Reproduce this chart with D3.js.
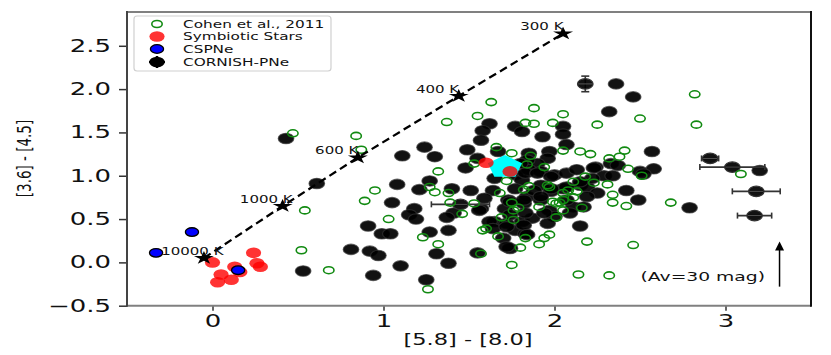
<!DOCTYPE html>
<html>
<head>
<meta charset="utf-8">
<script src="https://cdn.jsdelivr.net/npm/d3@7"></script>
<style>
body { margin: 0; background: #fff; }
text { font-family: "DejaVu Sans", sans-serif; fill: #111; }
</style>
</head>
<body>
<div id="chart"></div>
<script>
// Cohen et al. 2011 (open green)
var cohenX = [0.47,0.84,0.87,0.54,0.95,0.89,1.03,1.32,1.27,1.30,1.23,1.32,0.52,0.68,1.26,1.63,1.88,2.05,1.37,1.55,
  1.83,1.88,1.99,1.66,1.75,1.86,2.05,1.53,1.84,1.94,2.25,2.15,2.21,2.50,2.82,2.83,2.41,2.38,2.32,2.43,
  2.51,3.09,2.18,2.11,2.23,2.31,2.13,2.34,2.34,2.42,2.68,2.16,2.19,2.46,2.14,2.32,1.72,1.38,1.68,1.82,
  1.85,1.96,1.97,2.05,2.08,1.39,1.53,1.75,1.79,1.76,1.91,1.99,2.01,2.03,2.05,2.05,1.46,1.69,1.76,2.01,
  1.58,1.60,1.67,1.83,1.97,1.94,1.91,1.80,1.57,1.75,2.11];
var cohenY = [1.49,1.46,1.30,0.60,0.83,0.71,0.50,1.05,0.87,0.81,0.29,0.21,0.14,-0.09,-0.31,1.85,1.78,1.71,1.62,1.69,
  1.61,1.60,1.61,1.33,1.26,1.23,1.29,1.14,1.13,1.10,1.59,1.28,1.25,1.66,1.94,1.59,1.29,1.22,1.20,1.08,
  1.00,1.02,0.99,0.93,0.92,0.90,0.82,0.78,0.69,0.65,0.69,0.63,0.24,0.20,-0.14,-0.15,0.94,0.80,0.80,0.84,
  0.88,0.89,0.87,0.80,0.83,0.69,0.68,0.69,0.63,0.60,0.64,0.70,0.68,0.69,0.72,0.60,0.56,0.52,0.49,0.52,
  0.37,0.39,0.30,0.28,0.32,0.28,0.21,0.17,0.10,-0.03,0.75];

// CORNISH PNe (black)
var cornishX = [0.43,0.61,1.11,1.24,1.30,1.08,1.21,1.27,1.05,1.18,1.15,1.19,0.91,0.99,1.04,1.27,0.81,0.92,0.97,1.31,
  1.10,0.53,0.94,1.25,1.62,1.58,1.57,1.77,1.81,1.93,2.05,2.05,2.07,1.49,1.67,1.85,1.97,1.96,1.90,1.55,
  1.48,1.84,2.36,2.46,2.32,2.57,2.33,2.37,2.24,2.58,2.50,2.52,2.29,2.34,2.15,2.19,2.42,2.25,2.49,2.79,
  2.11,2.15,3.20,1.85,1.92,2.00,1.65,1.77,1.81,1.40,1.51,1.64,1.92,1.98,2.05,1.59,1.57,1.73,1.71,1.82,
  1.84,1.92,1.97,1.41,1.37,1.56,1.65,1.72,1.81,1.87,2.00,1.62,1.38,1.64,1.77,1.70,1.83,1.74,1.55,1.38,
  1.80,1.83,1.90,1.98,2.07,2.13,2.23,2.22,2.15,1.77,1.88,1.98,2.07,1.74,1.82,1.92,2.07,2.19,2.17,1.74,
  1.83,1.94,2.09,1.72,1.82,1.96,1.84,1.72];
var cornishY = [1.43,0.91,1.23,1.33,1.22,0.90,0.84,0.94,0.69,0.62,0.55,0.50,0.42,0.33,0.33,0.35,0.15,0.13,0.08,0.10,
  -0.04,-0.10,-0.15,-0.20,1.60,1.52,1.41,1.57,1.51,1.45,1.57,1.48,1.36,1.30,1.28,1.26,1.28,1.20,1.14,1.20,
  1.09,1.18,2.06,1.91,1.74,1.28,1.14,1.12,1.10,1.08,1.05,1.02,1.00,1.00,0.89,0.87,0.83,0.80,0.72,0.63,
  0.64,0.42,1.06,1.07,1.05,1.01,0.97,1.01,0.95,0.85,0.83,0.83,0.89,0.82,0.85,0.74,0.62,0.72,0.62,0.68,
  0.76,0.72,0.60,0.57,0.52,0.60,0.47,0.45,0.47,0.51,0.53,0.47,0.37,0.39,0.37,0.28,0.33,0.16,0.11,-0.01,
  1.14,1.03,1.03,0.99,1.03,1.07,1.09,0.97,0.93,0.85,0.83,0.85,0.87,0.70,0.72,0.76,0.72,0.76,0.64,0.55,
  0.57,0.57,0.57,0.41,0.43,0.45,0.32,0.18];

// CORNISH PNe with visible error bars
var errX = [2.18,2.91,3.04,3.18,3.17,1.45];
var errY = [2.06,1.20,1.10,0.82,0.54,0.67];
var errXerr = [0.00,0.05,0.19,0.14,0.10,0.17];
var errYerr = [0.09,0.00,0.00,0.00,0.00,0.00];

// Symbiotic stars (red)
var symbX = [0.00,0.05,0.03,0.11,0.13,0.16,0.24,0.26,0.28,1.60,1.74];
var symbY = [0.00,-0.14,-0.23,-0.20,-0.05,-0.11,0.11,-0.01,-0.05,1.15,1.05];

// CSPNe (blue)
var cspnX = [-0.33,-0.12,0.15];
var cspnY = [0.11,0.35,-0.09];

// highlighted source (cyan pentagon)
var specialX = [1.71];
var specialY = [1.10];

// blackbody track
var bbLabels = ["10000 K","1000 K","600 K","400 K","300 K"];
var bbX = [-0.05,0.41,0.85,1.44,2.05];
var bbY = [0.05,0.65,1.21,1.92,2.64];

// extinction vector
var avX = [3.316, 3.316];
var avY = [-0.28, 0.24];

var xTicks = [0,1,2,3];
var yTicks = [-0.5,0.0,0.5,1.0,1.5,2.0,2.5];

var legendLabels = ["Cohen et al., 2011","Symbiotic Stars","CSPNe","CORNISH-PNe"];

var width = 831, height = 355;
var sx = 1.5; // the picture is stretched horizontally

var svg = d3.select("#chart").append("svg")
  .attr("width", width).attr("height", height);

var x = d3.scaleLinear().domain([-0.5, 3.5]).range([127, 811]);
var y = d3.scaleLinear().domain([-0.5, 2.89]).range([305.7, 12]);

function stext(px, py, str, size, anchor) {
  return svg.append("text")
    .attr("transform", "translate(" + px + "," + py + ") scale(" + sx + ",1)")
    .attr("text-anchor", anchor || "start")
    .attr("dy", "0.36em")
    .attr("font-size", size)
    .text(str);
}

// axes
var yAxis = svg.append("g").attr("transform", "translate(127,0)")
  .call(d3.axisLeft(y).tickValues(yTicks).tickFormat(d3.format(".1f")).tickSize(8));
yAxis.select(".domain").remove();
yAxis.selectAll("line").attr("stroke", "#333").attr("stroke-width", 1.5);
yAxis.selectAll("text").attr("x", 0).attr("font-size", 17.3).attr("font-family", "DejaVu Sans")
  .attr("fill", "#111").attr("transform", "translate(-16,0) scale(" + sx + ",1)");

var xAxis = svg.append("g").attr("transform", "translate(0,305.7)")
  .call(d3.axisBottom(x).tickValues(xTicks).tickFormat(d3.format("d")).tickSize(5).tickPadding(4));
xAxis.select(".domain").remove();
xAxis.selectAll("line").attr("stroke", "#333").attr("stroke-width", 1.5);
xAxis.selectAll("text").attr("font-size", 17.3).attr("font-family", "DejaVu Sans")
  .attr("fill", "#111").attr("transform", "scale(" + sx + ",1)");

// black points
var gBlack = svg.append("g");
gBlack.selectAll("ellipse").data(cornishX).enter().append("ellipse")
  .attr("cx", (d) => x(d))
  .attr("cy", (d, i) => y(cornishY[i]))
  .attr("rx", 7.8).attr("ry", 5.2)
  .attr("fill", "#000").attr("fill-opacity", 0.93)
  .attr("stroke", "#333").attr("stroke-opacity", 0.7).attr("stroke-width", 1.2);

// error bar points
var gErr = svg.append("g").attr("stroke", "#333").attr("stroke-width", 1.6);
errX.forEach(function(v, i) {
  var cx = x(v), cy = y(errY[i]);
  if (errXerr[i] > 0) {
    var x0 = x(v - errXerr[i]), x1 = x(v + errXerr[i]);
    gErr.append("line").attr("x1", x0).attr("x2", x1).attr("y1", cy).attr("y2", cy);
    gErr.append("line").attr("x1", x0).attr("x2", x0).attr("y1", cy - 3).attr("y2", cy + 3);
    gErr.append("line").attr("x1", x1).attr("x2", x1).attr("y1", cy - 3).attr("y2", cy + 3);
  }
  if (errYerr[i] > 0) {
    var y0 = y(errY[i] - errYerr[i]), y1 = y(errY[i] + errYerr[i]);
    gErr.append("line").attr("x1", cx).attr("x2", cx).attr("y1", y0).attr("y2", y1);
    gErr.append("line").attr("x1", cx - 4).attr("x2", cx + 4).attr("y1", y0).attr("y2", y0);
    gErr.append("line").attr("x1", cx - 4).attr("x2", cx + 4).attr("y1", y1).attr("y2", y1);
  }
  gErr.append("ellipse").attr("cx", cx).attr("cy", cy).attr("rx", 7.8).attr("ry", 5.2)
    .attr("fill", "#000").attr("fill-opacity", 0.93).attr("stroke", "#333").attr("stroke-width", 1.2);
  svg.append("line").attr("x1", cx - 7).attr("x2", cx + 7).attr("y1", cy).attr("y2", cy)
    .attr("stroke", "#555").attr("stroke-width", 1);
});

// green open circles
svg.append("g").selectAll("ellipse").data(cohenX).enter().append("ellipse")
  .attr("cx", (d) => x(d))
  .attr("cy", (d, i) => y(cohenY[i]))
  .attr("rx", 5.2).attr("ry", 3.5)
  .attr("fill", "none").attr("stroke", "#118a11").attr("stroke-width", 1.6);

// cyan pentagon
var pent = d3.range(5).map(function(k) {
  var a = -Math.PI / 2 + k * 2 * Math.PI / 5;
  return [Math.cos(a) * 12, Math.sin(a) * 12];
});
svg.append("g").selectAll("path").data(specialX).enter().append("path")
  .attr("d", "M" + pent.join("L") + "Z")
  .attr("transform", (d, i) => "translate(" + x(d) + "," + y(specialY[i]) + ") scale(" + sx + ",1)")
  .attr("fill", "#00ffff");

// red symbiotic stars
svg.append("g").selectAll("ellipse").data(symbX).enter().append("ellipse")
  .attr("cx", (d) => x(d))
  .attr("cy", (d, i) => y(symbY[i]))
  .attr("rx", 7.6).attr("ry", 5.3)
  .attr("fill", "#ff0000").attr("fill-opacity", 0.8);

// blue CSPNe
svg.append("g").selectAll("ellipse").data(cspnX).enter().append("ellipse")
  .attr("cx", (d) => x(d))
  .attr("cy", (d, i) => y(cspnY[i]))
  .attr("rx", 6.6).attr("ry", 4.3)
  .attr("fill", "#0000ff").attr("stroke", "#000").attr("stroke-width", 1.3);

// blackbody line and stars
var line = d3.line().x((d) => x(d)).y((d, i) => y(bbY[i]));
svg.append("path").datum(bbX).attr("d", line)
  .attr("fill", "none").attr("stroke", "#000").attr("stroke-width", 2.3)
  .attr("stroke-dasharray", "8,4.5");
var star = d3.symbol().type(d3.symbolStar).size(55);
svg.append("g").selectAll("path").data(bbX).enter().append("path")
  .attr("d", star)
  .attr("transform", (d, i) => "translate(" + x(d) + "," + y(bbY[i]) + ") scale(" + sx + ",1)")
  .attr("fill", "#000");
bbX.forEach(function(v, i) {
  stext(x(v - 0.25), y(bbY[i] + 0.08), bbLabels[i], 10, "start");
});

// extinction arrow
var ax = x(avX[0]), ay0 = y(avY[0]), ay1 = y(avY[1]);
svg.append("line").attr("x1", ax).attr("x2", ax).attr("y1", ay0).attr("y2", ay1 + 8)
  .attr("stroke", "#000").attr("stroke-width", 1.5);
svg.append("path")
  .attr("d", "M" + (ax - 4.5) + "," + (ay1 + 9) + "L" + ax + "," + ay1 + "L" + (ax + 4.5) + "," + (ay1 + 9) + "Z")
  .attr("fill", "#000");
stext(x(2.503), y(-0.158), "(Av=30 mag)", 12.5, "start");

// spines
svg.append("line").attr("x1", 127).attr("x2", 811).attr("y1", 12).attr("y2", 12).attr("stroke", "#808080").attr("stroke-width", 2);
svg.append("line").attr("x1", 127).attr("x2", 811).attr("y1", 305.7).attr("y2", 305.7).attr("stroke", "#808080").attr("stroke-width", 2);
svg.append("line").attr("x1", 127).attr("x2", 127).attr("y1", 11).attr("y2", 306.7).attr("stroke", "#444").attr("stroke-width", 2);
svg.append("line").attr("x1", 811).attr("x2", 811).attr("y1", 11).attr("y2", 306.7).attr("stroke", "#111").attr("stroke-width", 2);

// legend
var lg = svg.append("g");
lg.append("rect").attr("x", 134).attr("y", 16).attr("width", 197).attr("height", 55).attr("rx", 3)
  .attr("fill", "#fff").attr("fill-opacity", 0.85).attr("stroke", "#d0d0d0").attr("stroke-width", 1.2);
var rows = [24, 36.5, 49, 62];
lg.append("ellipse").attr("cx", 157).attr("cy", rows[0]).attr("rx", 5.2).attr("ry", 3.5)
  .attr("fill", "none").attr("stroke", "#118a11").attr("stroke-width", 1.6);
lg.append("ellipse").attr("cx", 157).attr("cy", rows[1]).attr("rx", 7.6).attr("ry", 5.3)
  .attr("fill", "#ff0000").attr("fill-opacity", 0.8);
lg.append("ellipse").attr("cx", 157).attr("cy", rows[2]).attr("rx", 6.6).attr("ry", 4.3)
  .attr("fill", "#0000ff").attr("stroke", "#000").attr("stroke-width", 1.3);
lg.append("ellipse").attr("cx", 157).attr("cy", rows[3]).attr("rx", 7.8).attr("ry", 5.2).attr("fill", "#000");
lg.append("line").attr("x1", 149).attr("x2", 165).attr("y1", rows[3]).attr("y2", rows[3]).attr("stroke", "#000").attr("stroke-width", 2);
lg.append("line").attr("x1", 157).attr("x2", 157).attr("y1", rows[3] - 6).attr("y2", rows[3] + 6).attr("stroke", "#000").attr("stroke-width", 2.5);
legendLabels.forEach(function(t, i) {
  stext(183, rows[i], t, 10.2, "start");
});

// axis labels
stext(468, 340, "[5.8] - [8.0]", 15, "middle");
svg.append("text")
  .attr("transform", "translate(24,158.5) scale(" + sx + ",1) rotate(-90)")
  .attr("text-anchor", "middle").attr("dy", "0.36em").attr("font-size", 13.5)
  .text("[3.6] - [4.5]");
</script>
</body>
</html>
